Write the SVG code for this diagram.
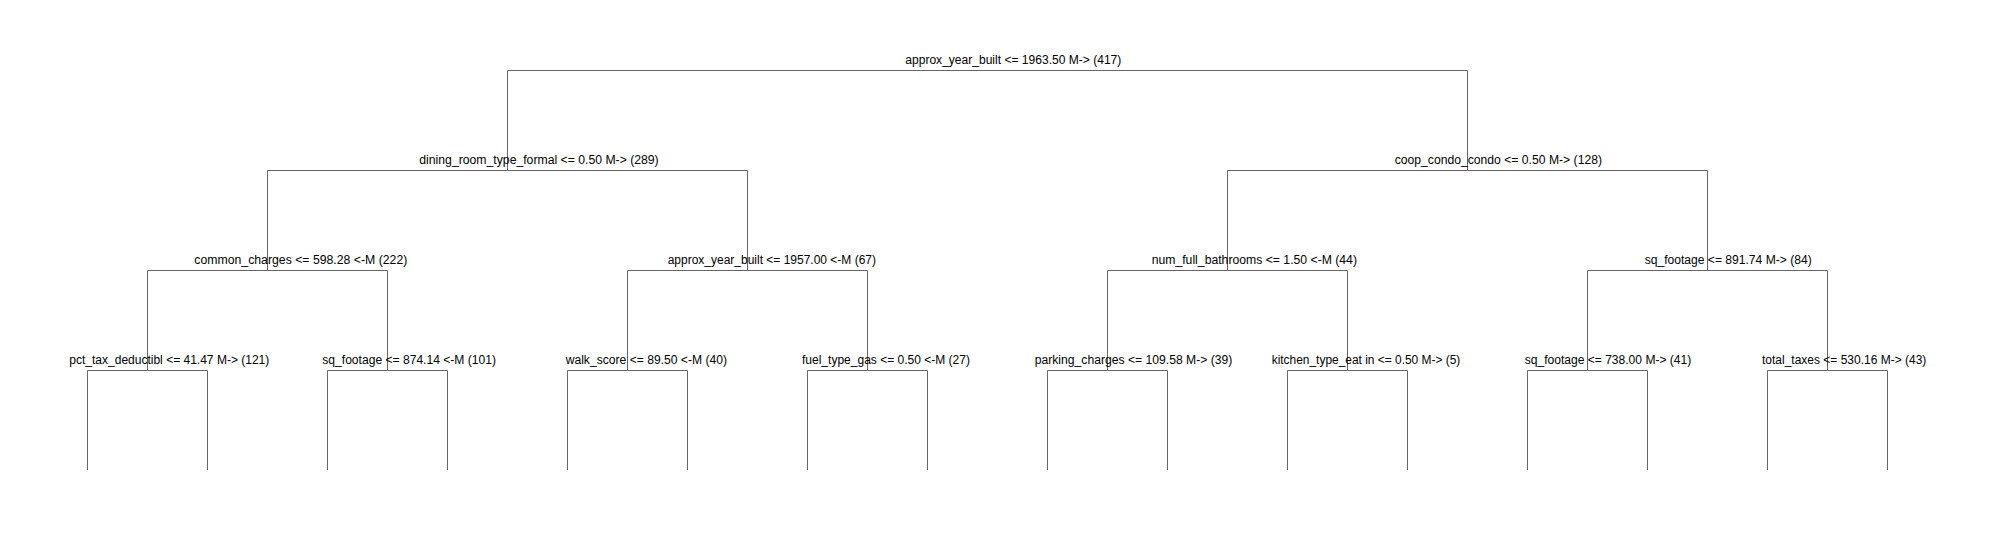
<svg xmlns="http://www.w3.org/2000/svg" width="1995" height="540" viewBox="0 0 1995 540">
<style>
.e{stroke:#666;stroke-width:1;fill:none}
.t{font-family:"Liberation Sans",Arial,sans-serif;font-size:12px;fill:#000}
</style>
<rect width="1995" height="540" fill="#fff"/>
<g id="connectors" class="e">
<path d="M507.5 70.5H1467.5M507.5 70.5V170.5M1467.5 70.5V170.5"/>
<path d="M267.5 170.5H747.5M267.5 170.5V270.5M747.5 170.5V270.5"/>
<path d="M1227.5 170.5H1707.5M1227.5 170.5V270.5M1707.5 170.5V270.5"/>
<path d="M147.5 270.5H387.5M147.5 270.5V370.5M387.5 270.5V370.5"/>
<path d="M627.5 270.5H867.5M627.5 270.5V370.5M867.5 270.5V370.5"/>
<path d="M1107.5 270.5H1347.5M1107.5 270.5V370.5M1347.5 270.5V370.5"/>
<path d="M1587.5 270.5H1827.5M1587.5 270.5V370.5M1827.5 270.5V370.5"/>
<path d="M87.5 370.5H207.5M87.5 370.5V470M207.5 370.5V470"/>
<path d="M327.5 370.5H447.5M327.5 370.5V470M447.5 370.5V470"/>
<path d="M567.5 370.5H687.5M567.5 370.5V470M687.5 370.5V470"/>
<path d="M807.5 370.5H927.5M807.5 370.5V470M927.5 370.5V470"/>
<path d="M1047.5 370.5H1167.5M1047.5 370.5V470M1167.5 370.5V470"/>
<path d="M1287.5 370.5H1407.5M1287.5 370.5V470M1407.5 370.5V470"/>
<path d="M1527.5 370.5H1647.5M1527.5 370.5V470M1647.5 370.5V470"/>
<path d="M1767.5 370.5H1887.5M1767.5 370.5V470M1887.5 370.5V470"/>
</g>
<g id="n0"><text class="t" x="905.3" y="64" textLength="216" lengthAdjust="spacingAndGlyphs">approx_year_built &lt;= 1963.50 M-&gt; (417)</text></g>
<g id="n1"><text class="t" x="419.3" y="164" textLength="239.4" lengthAdjust="spacingAndGlyphs">dining_room_type_formal &lt;= 0.50 M-&gt; (289)</text></g>
<g id="n2"><text class="t" x="1394.7" y="164" textLength="207.3" lengthAdjust="spacingAndGlyphs">coop_condo_condo &lt;= 0.50 M-&gt; (128)</text></g>
<g id="n3"><text class="t" x="194.3" y="264" textLength="213" lengthAdjust="spacingAndGlyphs">common_charges &lt;= 598.28 &lt;-M (222)</text></g>
<g id="n4"><text class="t" x="667.7" y="264" textLength="208.3" lengthAdjust="spacingAndGlyphs">approx_year_built &lt;= 1957.00 &lt;-M (67)</text></g>
<g id="n5"><text class="t" x="1151.7" y="264" textLength="205.3" lengthAdjust="spacingAndGlyphs">num_full_bathrooms &lt;= 1.50 &lt;-M (44)</text></g>
<g id="n6"><text class="t" x="1644.7" y="264" textLength="167" lengthAdjust="spacingAndGlyphs">sq_footage &lt;= 891.74 M-&gt; (84)</text></g>
<g id="n7"><text class="t" x="69.3" y="364" textLength="200" lengthAdjust="spacingAndGlyphs">pct_tax_deductibl &lt;= 41.47 M-&gt; (121)</text></g>
<g id="n8"><text class="t" x="322.3" y="364" textLength="173.7" lengthAdjust="spacingAndGlyphs">sq_footage &lt;= 874.14 &lt;-M (101)</text></g>
<g id="n9"><text class="t" x="565.7" y="364" textLength="161.3" lengthAdjust="spacingAndGlyphs">walk_score &lt;= 89.50 &lt;-M (40)</text></g>
<g id="n10"><text class="t" x="802" y="364" textLength="168" lengthAdjust="spacingAndGlyphs">fuel_type_gas &lt;= 0.50 &lt;-M (27)</text></g>
<g id="n11"><text class="t" x="1034.7" y="364" textLength="197.6" lengthAdjust="spacingAndGlyphs">parking_charges &lt;= 109.58 M-&gt; (39)</text></g>
<g id="n12"><text class="t" x="1271.7" y="364" textLength="188.6" lengthAdjust="spacingAndGlyphs">kitchen_type_eat in &lt;= 0.50 M-&gt; (5)</text></g>
<g id="n13"><text class="t" x="1524.7" y="364" textLength="166.6" lengthAdjust="spacingAndGlyphs">sq_footage &lt;= 738.00 M-&gt; (41)</text></g>
<g id="n14"><text class="t" x="1762" y="364" textLength="164.3" lengthAdjust="spacingAndGlyphs">total_taxes &lt;= 530.16 M-&gt; (43)</text></g>
</svg>
